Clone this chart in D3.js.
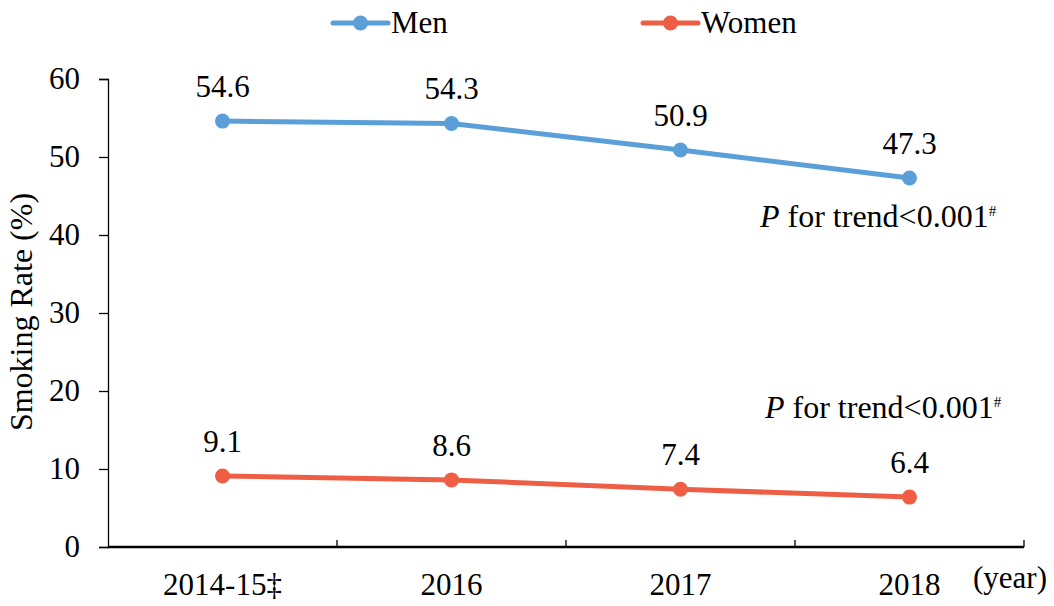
<!DOCTYPE html>
<html>
<head>
<meta charset="utf-8">
<script src="https://cdn.jsdelivr.net/npm/d3@7"></script>
<style>
  body { margin: 0; background: #fff; }
  svg text { font-family: "Liberation Serif", "Times New Roman", serif; fill: #000; }
</style>
</head>
<body>
<script>
var years = ['2014-15\u2021', '2016', '2017', '2018']
var men = [54.6, 54.3, 50.9, 47.3]
var women = [9.1, 8.6, 7.4, 6.4]
var yTicks = [0, 10, 20, 30, 40, 50, 60]
var seriesNames = ['Men', 'Women']

var width = 1054,
	height = 606,
	margin = {top: 79, left: 108, right: 30, bottom: 59};

var colors = {Men: '#5B9FD8', Women: '#EE5E45'}
var fs = '31px'

var svg = d3.select('body')
	.append('svg')
	.attr('width', width)
	.attr('height', height)

var x = d3.scaleBand()
	.domain(years)
	.range([margin.left, width - margin.right])

var y = d3.scaleLinear()
	.domain([0, 60])
	.range([height - margin.bottom, margin.top])

// y axis
var gy = svg.append('g')
	.attr('transform', 'translate(' + margin.left + ',0)')
	.call(d3.axisLeft(y).tickValues(yTicks).tickSize(9).tickPadding(19))
gy.attr('font-family', null)
gy.select('.domain').attr('stroke', '#000').attr('stroke-width', 1.3)
gy.selectAll('.tick line').attr('stroke', '#000').attr('stroke-width', 1.3)
gy.selectAll('.tick text').style('font-size', fs)

// x axis, ticks pointing up between categories
var boundaries = years.map(function(d) { return x(d) + x.bandwidth() })
var gx = svg.append('g')
	.attr('transform', 'translate(0,' + y(0) + ')')
gx.append('line')
	.attr('x1', margin.left).attr('x2', width - margin.right)
	.attr('stroke', '#000').attr('stroke-width', 2.5)
gx.selectAll('line.tk')
	.data(boundaries).enter()
	.append('line')
	.attr('class', 'tk')
	.attr('x1', d => d).attr('x2', d => d)
	.attr('y1', 0).attr('y2', -7)
	.attr('stroke', '#000').attr('stroke-width', 1.3)
gx.selectAll('text')
	.data(years).enter()
	.append('text')
	.attr('x', d => x(d) + x.bandwidth() / 2)
	.attr('y', 48)
	.attr('text-anchor', 'middle')
	.style('font-size', fs)
	.text(d => d)

svg.append('text')
	.attr('x', 973)
	.attr('y', 588)
	.style('font-size', fs)
	.text('(year)')

// y title
svg.append('text')
	.attr('transform', 'translate(32,' + 312 + ') rotate(-90)')
	.attr('text-anchor', 'middle')
	.style('font-size', '32px')
	.text('Smoking Rate (%)')

var line = d3.line()
	.x((d, i) => x(years[i]) + x.bandwidth() / 2)
	.y(d => y(d))

var series = [{name: 'Men', values: men}, {name: 'Women', values: women}]

series.forEach(function(s) {
	svg.append('path')
		.datum(s.values)
		.attr('d', line)
		.attr('fill', 'none')
		.attr('stroke', colors[s.name])
		.attr('stroke-width', 5)
		.attr('stroke-linecap', 'round')

	svg.append('g')
		.selectAll('circle')
		.data(s.values).enter()
		.append('circle')
		.attr('cx', (d, i) => x(years[i]) + x.bandwidth() / 2)
		.attr('cy', d => y(d))
		.attr('r', 7.5)
		.attr('fill', colors[s.name])

	svg.append('g')
		.selectAll('text')
		.data(s.values).enter()
		.append('text')
		.attr('x', (d, i) => x(years[i]) + x.bandwidth() / 2)
		.attr('y', d => y(d) - 24)
		.attr('text-anchor', 'middle')
		.style('font-size', fs)
		.text(d => d.toFixed(1))
})

// trend annotations
function trend(xl, yb) {
	var t = svg.append('text')
		.attr('x', xl)
		.attr('y', yb)
		.style('font-size', '32px')
	t.append('tspan').style('font-style', 'italic').text('P')
	t.append('tspan').text(' for trend<0.001')
	t.append('tspan').attr('dy', -11).style('font-size', '15px').text('#')
}
trend(760, 227)
trend(765, 418)

// legend
var legendX = [333, 643]
seriesNames.forEach(function(n, i) {
	var g = svg.append('g').attr('transform', 'translate(' + legendX[i] + ',23)')
	g.append('line')
		.attr('x1', 0).attr('x2', 55)
		.attr('stroke', colors[n]).attr('stroke-width', 5)
		.attr('stroke-linecap', 'round')
	g.append('circle').attr('cx', 27.5).attr('r', 7.5).attr('fill', colors[n])
	g.append('text')
		.attr('x', 58)
		.attr('y', 10)
		.style('font-size', fs)
		.text(n)
})
</script>
</body>
</html>
